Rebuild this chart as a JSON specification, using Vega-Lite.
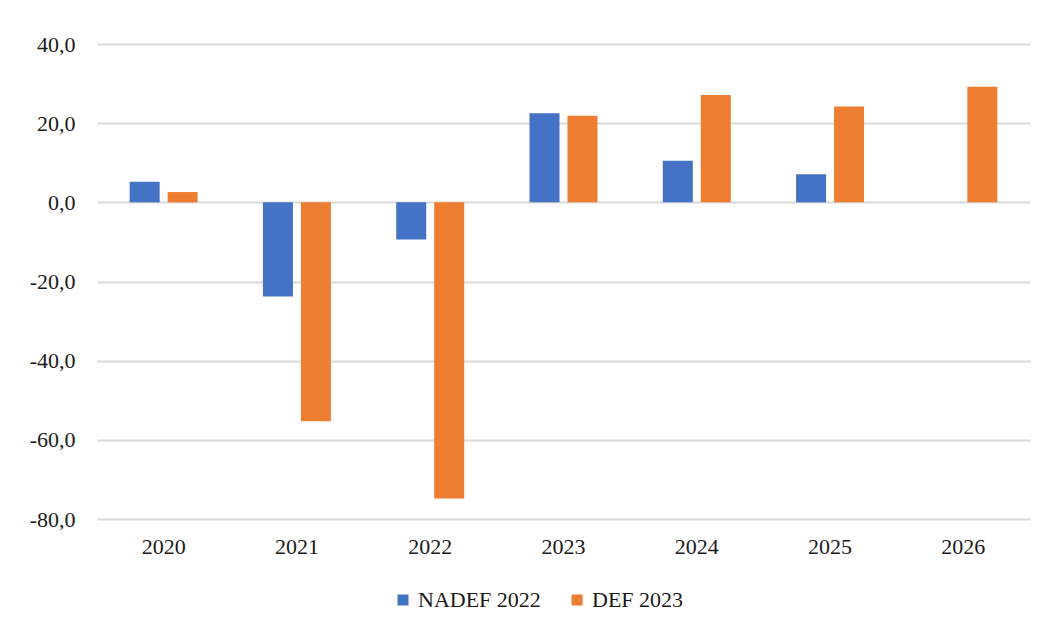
{
  "$schema": "https://vega.github.io/schema/vega-lite/v6.json",
  "width": 933,
  "height": 475,
  "autosize": {"type": "none"},
  "padding": {"left": 97, "top": 44, "right": 16, "bottom": 108},
  "background": "white",
  "config": {
    "locale": {"number": {"decimal": ",", "thousands": ".", "grouping": [3], "currency": ["", " €"], "minus": "-"}},
    "font": "Liberation Serif",
    "view": {"stroke": null}
  },
  "data": {
    "values": [
      {"year": "2020", "series": "NADEF 2022", "value": 5.2},
      {"year": "2020", "series": "DEF 2023", "value": 2.6},
      {"year": "2021", "series": "NADEF 2022", "value": -23.8},
      {"year": "2021", "series": "DEF 2023", "value": -55.3},
      {"year": "2022", "series": "NADEF 2022", "value": -9.4},
      {"year": "2022", "series": "DEF 2023", "value": -74.8},
      {"year": "2023", "series": "NADEF 2022", "value": 22.5},
      {"year": "2023", "series": "DEF 2023", "value": 21.9},
      {"year": "2024", "series": "NADEF 2022", "value": 10.5},
      {"year": "2024", "series": "DEF 2023", "value": 27.1},
      {"year": "2025", "series": "NADEF 2022", "value": 7.1},
      {"year": "2025", "series": "DEF 2023", "value": 24.2},
      {"year": "2026", "series": "DEF 2023", "value": 29.2}
    ]
  },
  "mark": {"type": "bar"},
  "encoding": {
    "x": {
      "field": "year", "type": "nominal",
      "scale": {"paddingInner": 0.49, "paddingOuter": 0.245},
      "axis": {"title": null, "labelAngle": 0, "domain": false, "ticks": false, "labelFontSize": 22, "labelColor": "#1a1a1a", "labelPadding": 17}
    },
    "xOffset": {"field": "series", "type": "nominal", "sort": ["NADEF 2022", "DEF 2023"], "scale": {"paddingInner": 0.21}},
    "y": {
      "field": "value", "type": "quantitative",
      "scale": {"domain": [-80, 40], "nice": false},
      "axis": {"title": null, "values": [-80, -60, -40, -20, 0, 20, 40], "format": ",.1f", "domain": false, "ticks": false, "labelFontSize": 22, "labelColor": "#1a1a1a", "labelPadding": 22, "gridColor": "#d9d9d9", "gridWidth": 2}
    },
    "color": {
      "field": "series", "type": "nominal",
      "sort": ["NADEF 2022", "DEF 2023"],
      "scale": {"domain": ["NADEF 2022", "DEF 2023"], "range": ["#4472C4", "#ED7D31"]},
      "legend": {"title": null, "orient": "none", "legendX": 295, "legendY": 545, "direction": "horizontal", "symbolType": "square", "symbolSize": 121, "symbolStrokeWidth": 0, "labelFontSize": 22, "labelColor": "#1a1a1a", "columnPadding": 25, "labelOffset": 4}
    }
  }
}
